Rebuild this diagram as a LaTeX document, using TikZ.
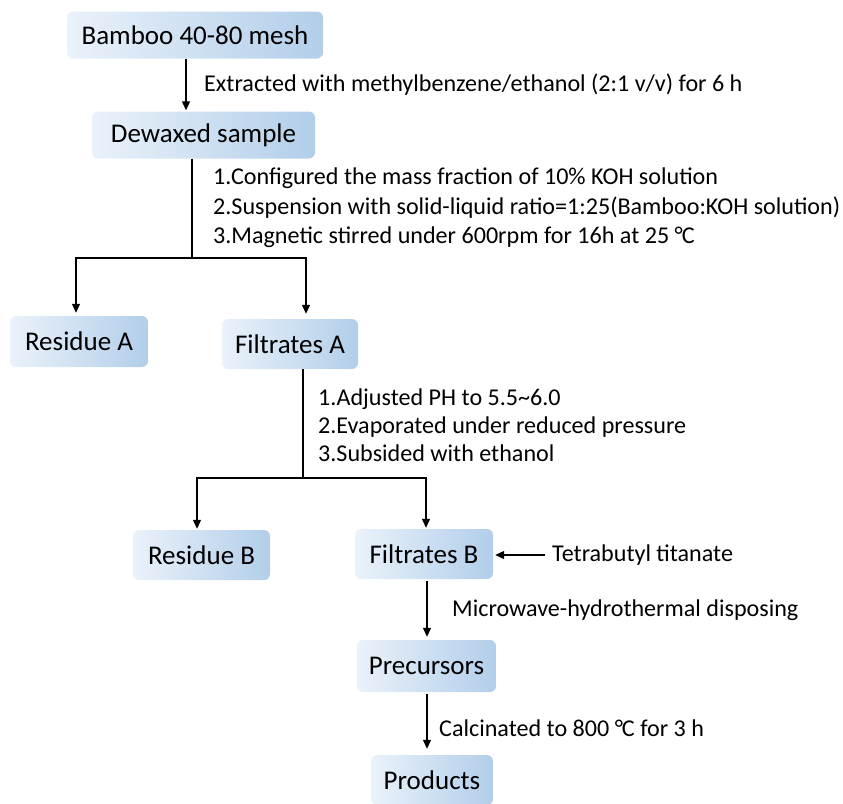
\documentclass[tikz,border=0pt]{standalone}
\usepackage{fontspec}
\setmainfont{Carlito}
\usetikzlibrary{arrows.meta,positioning}
\definecolor{boxlight}{HTML}{EAF2FA}
\definecolor{boxdark}{HTML}{B2CEEA}

\begin{document}
\begin{tikzpicture}[x=1pt, y=-1pt, >={Triangle[length=9pt,width=8pt]},
    box/.style={rounded corners=6pt, left color=boxlight, right color=boxdark, inner sep=0pt, minimum height=47pt, font=\fontsize{27}{32}\selectfont},
    note/.style={anchor=west, align=left, inner sep=0pt, font=\fontsize{24.1}{29.5}\selectfont},
    link/.style={->, line width=1.2pt}]
    \useasboundingbox (0,0) rectangle (843,803);

    % Boxes
    \node[box, minimum width=256pt] (bamboo) at (195,35) {Bamboo 40-80 mesh};
    \node[box, minimum width=223pt] (dewaxed) at (203.5,135) {Dewaxed sample};
    \node[box, minimum width=138pt, minimum height=51pt] (resA) at (79,341.5) {Residue A};
    \node[box, minimum width=136pt, minimum height=50pt] (filA) at (290,344) {Filtrates A};
    \node[box, minimum width=137pt, minimum height=50pt] (resB) at (201.5,555) {Residue B};
    \node[box, minimum width=138pt, minimum height=50pt] (filB) at (424,554) {Filtrates B};
    \node[box, minimum width=139pt, minimum height=52pt] (prec) at (426.5,666) {Precursors};
    \node[box, minimum width=122pt, minimum height=50pt] (prod) at (432,780) {Products};

    % Labels
    \node[note] (extract) at (204,85) {Extracted with methylbenzene/ethanol (2:1 v/v) for 6 h};
    \node[note] (stepsA) at (213,208) {1.Configured the mass fraction of 10\% KOH solution\\
        2.Suspension with solid-liquid ratio=1:25(Bamboo:KOH solution)\\
        3.Magnetic stirred under 600rpm for 16h at 25 °\kern-1pt C};
    \node[note, font=\fontsize{24.1}{28}\selectfont] (stepsB) at (318,425) {1.Adjusted PH to 5.5\textasciitilde 6.0\\
        2.Evaporated under reduced pressure\\
        3.Subsided with ethanol};
    \node[note] (tbt) at (552,555) {Tetrabutyl titanate};
    \node[note] (micro) at (452,610) {Microwave-hydrothermal disposing};
    \node[note] (calc) at (439,728) {Calcinated to 800 °\kern-1pt C for 3 h};

    % Branch points
    \coordinate (splitA) at (192,258);
    \coordinate (splitB) at (303,478);

    % Connectors
    \draw[link, shorten >=1pt] ([xshift=-9pt]bamboo.south) -- ([xshift=-17.5pt]dewaxed.north);
    \draw[line width=1.2pt] ([xshift=-11.5pt]dewaxed.south) -- (splitA);
    \draw[link, shorten >=3pt] (splitA) -| ([xshift=-3pt]resA.north);
    \draw[link, shorten >=5pt] (splitA) -| ([xshift=16pt]filA.north);
    \draw[line width=1.2pt] ([xshift=13pt]filA.south) -- (splitB);
    \draw[link, shorten >=1pt] (splitB) -| ([xshift=-4.5pt]resB.north);
    \draw[link, shorten >=1pt] (splitB) -| ([xshift=2pt]filB.north);
    \draw[link, shorten <=7pt, shorten >=2pt] (tbt.west) -- (filB.east |- tbt.west);
    \draw[link, shorten <=2pt, shorten >=3pt] ([xshift=3pt]filB.south) -- ([xshift=3pt]filB.south |- prec.north);
    \draw[link, shorten <=2pt, shorten >=6pt] ([xshift=0.5pt]prec.south) -- ([xshift=0.5pt]prec.south |- prod.north);
\end{tikzpicture}
\end{document}
